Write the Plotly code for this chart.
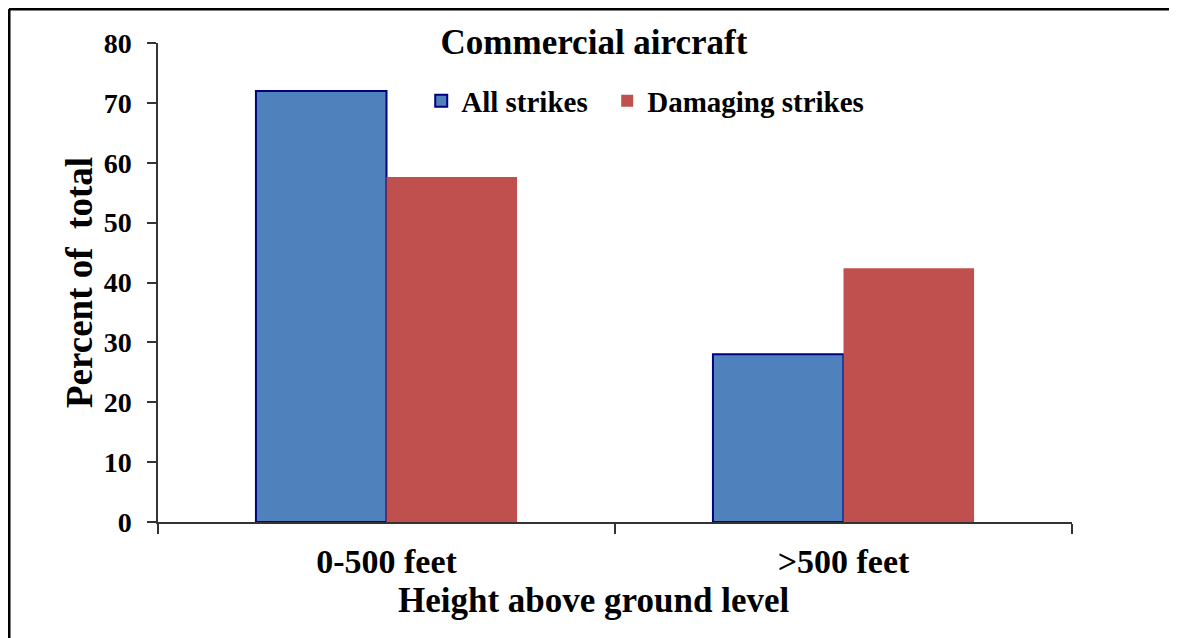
import plotly.graph_objects as go

# data
categories = ["0-500 feet", ">500 feet"]
series_names = ["All strikes", "Damaging strikes"]
all_strikes = [72.0, 28.0]
damaging_strikes = [57.6, 42.4]
y_ticks = [0, 10, 20, 30, 40, 50, 60, 70, 80]

FONT = "Liberation Serif, Times New Roman, serif"
BLUE = "#4F81BD"
RED = "#C0504D"

fig = go.Figure()
fig.add_trace(
    go.Bar(
        x=categories,
        y=all_strikes,
        # nbsp widens the gap between legend entries, like the original
        name=series_names[0] + "\u00a0\u00a0",
        marker=dict(color=BLUE, line=dict(color="#000080", width=2)),
    )
)
fig.add_trace(
    go.Bar(
        x=categories,
        y=damaging_strikes,
        name=series_names[1],
        marker=dict(color=RED, line=dict(color=RED, width=0)),
    )
)

# outer frame of the chart area (only top and left edges are visible)
fig.add_shape(type="line", xref="paper", yref="paper",
              x0=-0.163, x1=1.2, y0=1.071, y1=1.071,
              line=dict(color="black", width=3))
fig.add_shape(type="line", xref="paper", yref="paper",
              x0=-0.163, x1=-0.163, y0=1.071, y1=-0.3,
              line=dict(color="black", width=3))

# x-axis title sits a bit left of the plot centre in the original
fig.add_annotation(
    text="Height above ground level",
    xref="paper", yref="paper",
    x=0.476, y=-0.163,
    xanchor="center", yanchor="middle",
    showarrow=False,
    font=dict(family=FONT, size=35, color="black", weight="bold"),
)

fig.update_layout(
    width=1169,
    height=630,
    margin=dict(l=150, r=105, t=35, b=116),
    paper_bgcolor="white",
    plot_bgcolor="white",
    barmode="group",
    bargap=0.4286,
    bargroupgap=0,
    font=dict(family=FONT, color="black", weight="bold"),
    title=dict(
        text="Commercial aircraft",
        x=0.477, xref="paper", xanchor="center",
        y=0.946, yref="container", yanchor="middle",
        font=dict(family=FONT, size=35, color="black", weight="bold"),
    ),
    legend=dict(
        orientation="h",
        x=0.288, xanchor="left",
        y=0.879, yanchor="middle",
        font=dict(family=FONT, size=29, color="black", weight="bold"),
        bgcolor="rgba(0,0,0,0)",
        itemwidth=30,
        traceorder="normal",
    ),
    xaxis=dict(
        showline=True,
        linecolor="#333333",
        linewidth=1.5,
        ticks="outside",
        tickson="boundaries",
        ticklen=10,
        tickcolor="#333333",
        tickwidth=1.5,
        ticklabelstandoff=8,
        tickfont=dict(family=FONT, size=34, color="black", weight="bold"),
        showgrid=False,
    ),
    yaxis=dict(
        range=[0, 80],
        tickvals=y_ticks,
        showline=True,
        linecolor="#333333",
        linewidth=1.5,
        ticks="outside",
        ticklen=9,
        tickcolor="#333333",
        tickwidth=1.5,
        ticklabelstandoff=10,
        tickfont=dict(family=FONT, size=28, color="black", weight="bold"),
        title=dict(
            text="Percent of  total",
            font=dict(family=FONT, size=37, color="black", weight="bold"),
            standoff=0,
        ),
        showgrid=False,
        zeroline=False,
    ),
)

fig.write_html("out.html")
